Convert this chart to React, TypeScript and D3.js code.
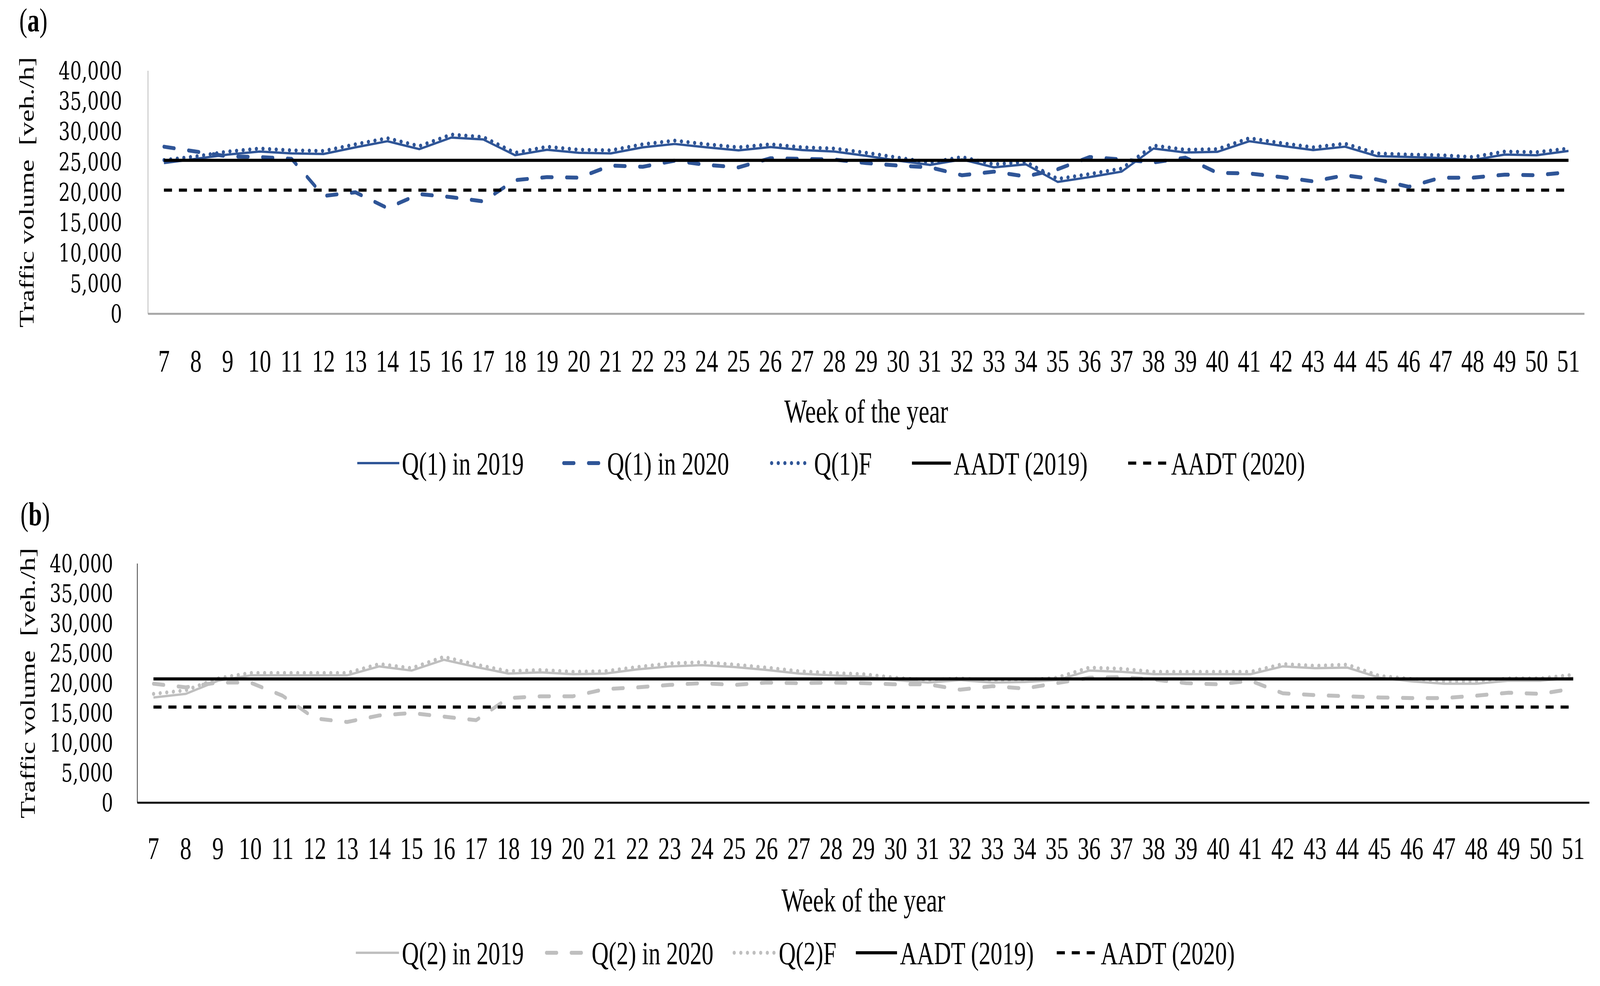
import React, { useRef, useEffect } from 'react';
import * as d3 from 'd3';

// Week numbers on the category axis
const weeks = [7, 8, 9, 10, 11, 12, 13, 14, 15, 16, 17, 18, 19, 20, 21, 22, 23, 24, 25, 26, 27, 28, 29,
  30, 31, 32, 33, 34, 35, 36, 37, 38, 39, 40, 41, 42, 43, 44, 45, 46, 47, 48, 49, 50, 51];
const yTicks = [0, 5000, 10000, 15000, 20000, 25000, 30000, 35000, 40000];

// Panel (a) - site 1
const q1in2019 = [24800, 25500, 26200, 26700, 26400, 26300, 27400, 28400, 27100, 29000, 28700, 26100, 27000,
  26500, 26400, 27400, 27950, 27400, 26900, 27450, 26950, 26700, 26000, 25200, 24500, 25400, 24100, 24600,
  21700, 22500, 23400, 27200, 26550, 26650, 28400, 27650, 26950, 27500, 25950, 25800, 25650, 25300, 26200,
  26100, 26800];
const q1in2020 = [27500, 26700, 25900, 25800, 25500, 19400, 20000, 17400, 19700, 19200, 18500, 22000, 22500,
  22400, 24400, 24200, 25200, 24500, 24100, 25600, 25500, 25400, 24800, 24400, 24100, 22800, 23400, 22600,
  23800, 25800, 25400, 24900, 25700, 23200, 23100, 22500, 21800, 22800, 22100, 20900, 22400, 22400, 22900,
  22800, 23300];
const q1F = [25300, 25900, 26700, 27200, 26900, 26800, 27900, 28900, 27600, 29500, 29100, 26500, 27500,
  27000, 26900, 27900, 28500, 27900, 27400, 27900, 27400, 27200, 26500, 25700, 24900, 25800, 24600, 25000,
  22200, 23000, 23900, 27700, 27000, 27100, 28900, 28100, 27400, 28000, 26400, 26200, 26100, 25800, 26700,
  26600, 27200];
const aadt1in2019 = 25250;
const aadt1in2020 = 20350;

// Panel (b) - site 2
const q2in2019 = [17600, 18200, 20400, 21300, 21300, 21300, 21300, 22800, 22100, 23900, 22700, 21600, 21800,
  21500, 21600, 22300, 22800, 23000, 22700, 22200, 21600, 21300, 21100, 20500, 20100, 20500, 20100, 20200,
  20500, 22100, 21900, 21500, 21500, 21500, 21500, 22800, 22500, 22600, 20900, 20300, 19900, 19900, 20400,
  20400, 20900];
const q2in2020 = [19900, 19300, 20100, 20100, 17900, 14100, 13500, 14600, 15000, 14400, 13800, 17500, 17800,
  17800, 19000, 19300, 19700, 20000, 19700, 20100, 20000, 20100, 20000, 19800, 19800, 18900, 19500, 19100,
  20000, 20900, 21000, 20600, 20000, 19800, 20400, 18300, 18000, 17800, 17600, 17500, 17500, 17900, 18400,
  18200, 19100];
const q2F = [18200, 18800, 20800, 21700, 21700, 21700, 21700, 23200, 22500, 24400, 23100, 22000, 22200,
  21900, 22000, 22700, 23300, 23500, 23100, 22600, 22000, 21700, 21500, 20900, 20500, 20800, 20400, 20500,
  20900, 22600, 22400, 21900, 21900, 21900, 21900, 23200, 22900, 23100, 21200, 20700, 20300, 20300, 20800,
  20800, 21400];
const aadt2in2019 = 20700;
const aadt2in2020 = 16000;

const W = 5558;
const H = 2523;
const FONT = "'Palatino Linotype', 'Book Antiqua', 'Liberation Serif', 'DejaVu Serif', serif";
// wider serif for the tightly stacked value labels, so they keep their width at a smaller size
const TICK_FONT = "'DejaVu Serif', 'Liberation Serif', serif";
const BLUE = '#2f5597';
const GREY = '#bfbfbf';

type StyleKey = 'solid' | 'dashed' | 'dotted' | 'aadt' | 'aadtDash';
const lineStyles: Record<StyleKey, { width: number; dash: string | null; cap: string }> = {
  solid: { width: 6, dash: null, cap: 'butt' },
  dashed: { width: 10, dash: '36,50', cap: 'round' },
  dotted: { width: 10, dash: '1,22', cap: 'round' },
  aadt: { width: 8, dash: null, cap: 'butt' },
  aadtDash: { width: 8, dash: '28,24', cap: 'butt' },
};

interface Panel {
  tag: string;
  tagX: number;
  tagY: number;
  left: number;
  right: number;
  top: number;
  bottom: number;
  yLabelX: number;
  xLabelY: number;
  titleY: number;
  legendY: number;
  yTitleX: number;
  axisColor: string;
  yAxisColor: string;
  color: string;
  series: { values: number[]; style: StyleKey }[];
  aadt2019: number;
  aadt2020: number;
  legend: { label: string; style: StyleKey; color: string; x1: number; x2: number; tx: number }[];
}

const drawPanel = (svg: d3.Selection<SVGSVGElement, unknown, null, undefined>, p: Panel) => {
  const g = svg.append('g').attr('font-family', FONT).attr('fill', '#000');

  const x = d3.scaleBand<number>().domain(weeks).range([p.left, p.right]).padding(0);
  const cx = (w: number) => (x(w) as number) + x.bandwidth() / 2;
  const y = d3.scaleLinear().domain([0, 40000]).range([p.bottom, p.top]);
  const fmt = d3.format(',');

  // panel tag
  const tag = g.append('text').attr('x', p.tagX).attr('y', p.tagY).attr('font-size', 84);
  tag.append('tspan').text('(');
  tag.append('tspan').attr('font-weight', 'bold').text(p.tag);
  tag.append('tspan').text(')');

  // y axis
  g.append('line')
    .attr('x1', p.left).attr('x2', p.left)
    .attr('y1', p.top).attr('y2', p.bottom)
    .attr('stroke', p.yAxisColor).attr('stroke-width', 2);

  g.selectAll('text.ytick')
    .data(yTicks)
    .join('text')
    .attr('class', 'ytick')
    .attr('x', p.yLabelX)
    .attr('y', d => y(d))
    .attr('dy', '0.36em')
    .attr('text-anchor', 'end')
    .attr('font-family', TICK_FONT)
    .attr('font-size', 63)
    .text(d => fmt(d));

  g.append('text')
    .attr('transform', `translate(${p.yTitleX}, ${(p.top + p.bottom) / 2}) rotate(-90)`)
    .attr('text-anchor', 'middle')
    .attr('dy', '0.35em')
    .attr('font-size', 72)
    .style('white-space', 'pre')
    .text('Traffic volume  [veh./h]');

  // x axis
  g.append('line')
    .attr('x1', p.left).attr('x2', p.right)
    .attr('y1', p.bottom).attr('y2', p.bottom)
    .attr('stroke', p.axisColor).attr('stroke-width', 5);

  g.selectAll('text.xtick')
    .data(weeks)
    .join('text')
    .attr('class', 'xtick')
    .attr('x', d => cx(d))
    .attr('y', p.xLabelY)
    .attr('dy', '0.35em')
    .attr('text-anchor', 'middle')
    .attr('font-size', 80)
    .text(d => String(d));

  g.append('text')
    .attr('x', (p.left + p.right) / 2)
    .attr('y', p.titleY)
    .attr('dy', '0.35em')
    .attr('text-anchor', 'middle')
    .attr('font-size', 84)
    .text('Week of the year');

  // weekly series
  const line = d3.line<number>()
    .x((_, i) => cx(weeks[i]))
    .y(d => y(d));

  p.series.forEach(s => {
    const st = lineStyles[s.style];
    g.append('path')
      .datum(s.values)
      .attr('d', line)
      .attr('fill', 'none')
      .attr('stroke', p.color)
      .attr('stroke-width', st.width)
      .attr('stroke-linecap', st.cap)
      .attr('stroke-linejoin', 'round')
      .attr('stroke-dasharray', st.dash);
  });

  // AADT reference lines
  const refs: [number, StyleKey][] = [[p.aadt2019, 'aadt'], [p.aadt2020, 'aadtDash']];
  refs.forEach(([v, key]) => {
    const st = lineStyles[key];
    g.append('line')
      .attr('x1', cx(weeks[0])).attr('x2', cx(weeks[weeks.length - 1]))
      .attr('y1', y(v)).attr('y2', y(v))
      .attr('stroke', '#000')
      .attr('stroke-width', st.width)
      .attr('stroke-dasharray', st.dash);
  });

  // legend
  p.legend.forEach(item => {
    const st = lineStyles[item.style];
    g.append('line')
      .attr('x1', item.x1).attr('x2', item.x2)
      .attr('y1', p.legendY).attr('y2', p.legendY)
      .attr('stroke', item.color)
      .attr('stroke-width', st.width)
      .attr('stroke-linecap', st.cap)
      .attr('stroke-dasharray', st.dash);
    g.append('text')
      .attr('x', item.tx)
      .attr('y', p.legendY)
      .attr('dy', '0.35em')
      .attr('font-size', 82)
      .text(item.label);
  });
};

const panelA: Panel = {
  tag: 'a', tagX: 67, tagY: 80,
  left: 514, right: 5504, top: 181, bottom: 803,
  yLabelX: 424, xLabelY: 923, titleY: 1052, legendY: 1185, yTitleX: 91,
  axisColor: '#a6a6a6', yAxisColor: '#a6a6a6', color: BLUE,
  series: [
    { values: q1in2019, style: 'solid' },
    { values: q1in2020, style: 'dashed' },
    { values: q1F, style: 'dotted' },
  ],
  aadt2019: aadt1in2019, aadt2020: aadt1in2020,
  legend: [
    { label: 'Q(1) in 2019', style: 'solid', color: BLUE, x1: 1241, x2: 1387, tx: 1396 },
    { label: 'Q(1) in 2020', style: 'dashed', color: BLUE, x1: 1958, x2: 2094, tx: 2109 },
    { label: 'Q(1)F', style: 'dotted', color: BLUE, x1: 2680, x2: 2816, tx: 2828 },
    { label: 'AADT (2019)', style: 'aadt', color: '#000', x1: 3168, x2: 3303, tx: 3313 },
    { label: 'AADT (2020)', style: 'aadtDash', color: '#000', x1: 3919, x2: 4058, tx: 4068 },
  ],
};

const panelB: Panel = {
  tag: 'b', tagX: 71, tagY: 1344,
  left: 477, right: 5521, top: 1442, bottom: 2054,
  yLabelX: 393, xLabelY: 2170, titleY: 2303, legendY: 2438, yTitleX: 96,
  axisColor: '#000', yAxisColor: '#000', color: GREY,
  series: [
    { values: q2in2019, style: 'solid' },
    { values: q2in2020, style: 'dashed' },
    { values: q2F, style: 'dotted' },
  ],
  aadt2019: aadt2in2019, aadt2020: aadt2in2020,
  legend: [
    { label: 'Q(2) in 2019', style: 'solid', color: GREY, x1: 1236, x2: 1386, tx: 1396 },
    { label: 'Q(2) in 2020', style: 'dashed', color: GREY, x1: 1898, x2: 2040, tx: 2055 },
    { label: 'Q(2)F', style: 'dotted', color: GREY, x1: 2550, x2: 2692, tx: 2705 },
    { label: 'AADT (2019)', style: 'aadt', color: '#000', x1: 2973, x2: 3116, tx: 3126 },
    { label: 'AADT (2020)', style: 'aadtDash', color: '#000', x1: 3671, x2: 3814, tx: 3824 },
  ],
};

const App: React.FC = () => {
  const svgRef = useRef<SVGSVGElement>(null);

  useEffect(() => {
    document.body.style.margin = '0';
    document.body.style.overflow = 'hidden';
    if (!svgRef.current) return;
    const svg = d3.select(svgRef.current);
    svg.selectAll('*').remove();
    svg.append('rect').attr('width', W).attr('height', H).attr('fill', '#fff');
    drawPanel(svg, panelA);
    drawPanel(svg, panelB);
  }, []);

  // the drawing is laid out in the reference's 5558x2523 pixel frame and stretched to the window
  return (
    <svg
      ref={svgRef}
      viewBox={`0 0 ${W} ${H}`}
      preserveAspectRatio="none"
      style={{ position: 'absolute', left: 0, top: 0, width: '100vw', height: '100vh', display: 'block' }}
    />
  );
};

export default App;
